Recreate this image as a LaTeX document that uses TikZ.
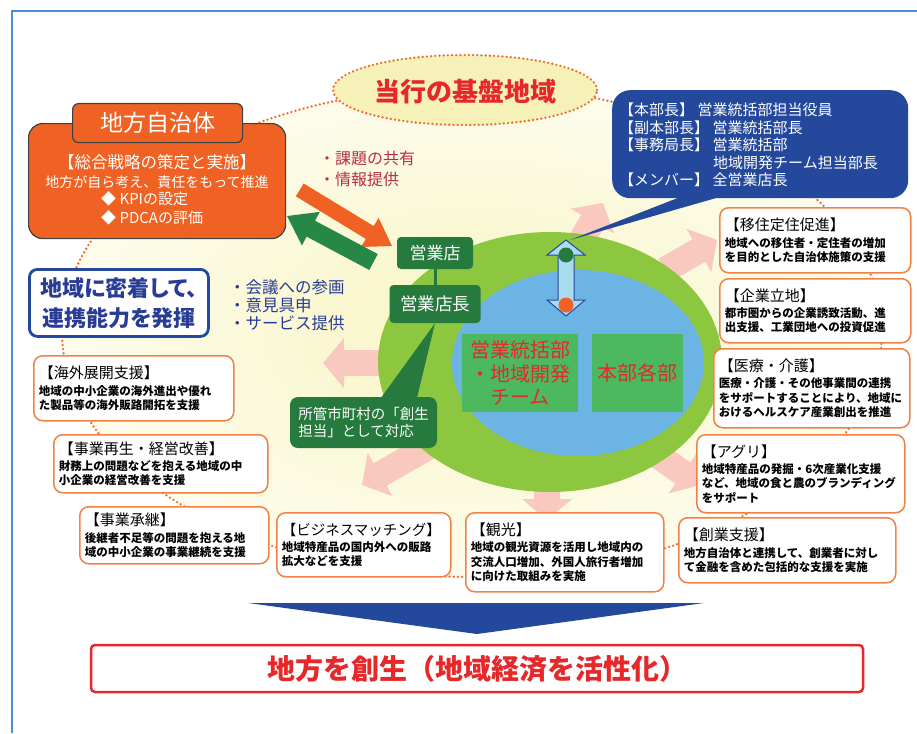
\documentclass[tikz,border=0pt]{standalone}
\usepackage{fontspec}
\setmainfont{Noto Sans CJK JP}
\newfontfamily\jpp[RawFeature=+palt]{Noto Sans CJK JP}
\usetikzlibrary{calc}

\definecolor{frameblue}{RGB}{74,144,208}
\definecolor{dotor}{RGB}{240,110,40}
\definecolor{orfill}{RGB}{240,98,35}
\definecolor{dkgreen}{RGB}{38,122,62}
\definecolor{argreen}{RGB}{38,135,70}
\definecolor{ringgreen}{RGB}{141,198,63}
\definecolor{lakeblue}{RGB}{108,180,228}
\definecolor{rectgreen}{RGB}{76,184,96}
\definecolor{redtxt}{RGB}{230,40,42}
\definecolor{navy}{RGB}{35,72,156}
\definecolor{navytxt}{RGB}{40,60,150}
\definecolor{boxor}{RGB}{240,130,70}
\definecolor{pinkar}{RGB}{249,200,190}
\definecolor{crimson}{RGB}{185,45,70}
\definecolor{paleblue}{RGB}{170,220,240}
\definecolor{bgin}{RGB}{248,245,195}
\definecolor{bgout}{RGB}{253,252,236}
\definecolor{ellfill}{RGB}{246,241,185}

\newcommand{\fsz}[2]{\fontsize{#1pt}{#2pt}\selectfont}
\newcommand{\ttl}[1]{{\mdseries\fsz{15}{18}#1}\\[2pt]}
% color, tipx, tipy, angle, length, shaft half, head half, head length
\newcommand{\blkarrow}[8]{\fill[#1, shift={(#2,#3)}, rotate=#4] (0,0) -- (-#8,#7) -- (-#8,#6) -- (-#5,#6) -- (-#5,-#6) -- (-#8,-#6) -- (-#8,-#7) -- cycle;}

\begin{document}
\begin{tikzpicture}[x=1pt,y=-1pt,
  dotline/.style={draw=dotor, line width=2.6pt, dash pattern=on 0pt off 4.2pt, line cap=round},
  obox/.style={draw=boxor, line width=1.5pt, fill=white, rounded corners=9pt, align=left,
    anchor=north west, inner xsep=5pt, inner ysep=0pt, text=black, font=\bfseries\fsz{11.5}{14.3}},
  gbox/.style={fill=dkgreen, rounded corners=4pt, text=white, inner sep=0pt},
  wtxt/.style={text=white, inner sep=0pt},
  btxt/.style={text=white, inner sep=0pt, anchor=west, font=\fsz{15}{15}}
]
\useasboundingbox (0,0) rectangle (917,733);

% frame
\draw[frameblue, line width=1.5pt] (12,733) -- (12,11) -- (917,11);

% background region
\shade[inner color=bgin, outer color=bgout] (472,332) ellipse [x radius=410pt, y radius=245pt];
\draw[dotline] (472,332) ellipse [x radius=410pt, y radius=245pt];

% pink arrows
\blkarrow{pinkar}{323}{363}{180}{65}{13}{25}{21}
\blkarrow{pinkar}{362}{485}{210}{80}{13}{25}{21}
\blkarrow{pinkar}{547}{520}{270}{60}{13}{25}{21}
\blkarrow{pinkar}{700}{485}{-35}{60}{13}{25}{21}
\blkarrow{pinkar}{717}{240}{30}{60}{13}{25}{21}
\blkarrow{pinkar}{603}{203}{60}{60}{13}{25}{21}

% circle
\fill[ringgreen] (550,362) ellipse [x radius=172pt, y radius=130pt];
\fill[lakeblue] (578,363) ellipse [x radius=126pt, y radius=93pt];

\node[fill=rectgreen, minimum width=116pt, minimum height=78pt, inner sep=0pt, text=redtxt,
  align=center, font=\fsz{20}{23.5}] (eigyo) at (520,373) {営業統括部\\・地域開発\\チーム};
\node[fill=rectgreen, minimum width=91pt, minimum height=78pt, inner sep=0pt, text=redtxt,
  font=\fsz{20}{20}] (kakubu) at (637.5,373) {本部各部};

% double arrow
\draw[fill=paleblue, draw=navy, line width=1pt] (566,240) -- (585,255) -- (574,255) -- (574,300)
  -- (585,300) -- (566,316) -- (547,300) -- (558,300) -- (558,255) -- (547,255) -- cycle;
\fill[dkgreen] (566,255) circle (7.5pt);
\fill[orfill] (566,305) circle (7.5pt);

% branch boxes
\node[gbox, minimum width=76pt, minimum height=32pt, font=\fsz{17}{17}] (ten) at (435,253) {営業店};
\node[gbox, minimum width=91pt, minimum height=38pt, font=\fsz{17.5}{17.5}] (chou) at (435,304) {営業店長};
\draw[dkgreen, line width=3pt] (ten.south) -- (chou.north);
\fill[dkgreen] (378,402) -- (chou.south) -- (416,402) -- cycle;
\node[gbox, rounded corners=8pt, minimum width=147pt, minimum height=51pt, align=left,
  font=\fsz{14.5}{17.5}] (soukan) at (363.5,422.5) {所管市町村の「創生\\担当」として対応};

% exchange arrows
\blkarrow{orfill}{392}{246}{-31.3}{108}{7.5}{17}{26}
\blkarrow{argreen}{287}{216}{152}{98}{9}{19}{27}

\node[anchor=west, inner sep=0pt, text=crimson, font=\fsz{16}{16}] (kadai) at (319,158) {・課題の共有};
\node[anchor=west, inner sep=0pt, text=crimson, font=\fsz{16}{16}] (joho) at (319,179) {・情報提供};

\node[anchor=west, inner sep=0pt, text=navytxt, font=\fsz{16.5}{16.5}] (kaigi) at (229,287) {・会議への参画};
\node[anchor=west, inner sep=0pt, text=navytxt, font=\fsz{16.5}{16.5}] (iken) at (229,305) {・意見具申};
\node[anchor=west, inner sep=0pt, text=navytxt, font=\fsz{16.5}{16.5}] (service) at (229,323) {・サービス提供};

% local government
\node[draw=black!75, line width=1.2pt, fill=orfill, rounded corners=14pt, minimum width=257pt,
  minimum height=115pt, anchor=north west, inner sep=0pt] (jichi) at (28,123) {};
\node[draw=black!75, line width=1.2pt, fill=orfill, rounded corners=6pt, minimum width=170pt,
  minimum height=39pt, anchor=north west, inner sep=0pt, text=white, font=\fsz{23}{23}] (jichit) at (72,103) {地方自治体};
\node[wtxt, font=\fsz{16.5}{17}] (senryaku) at (157,162) {【総合戦略の策定と実施】};
\node[wtxt, font=\fsz{14}{14}] (suishin) at (157,182) {地方が自ら考え、責任をもって推進};
\node[wtxt, anchor=west, font=\fsz{15}{15}] (kpi) at (101,199) {◆ KPIの設定};
\node[wtxt, anchor=west, font=\fsz{15}{15}] (pdca) at (101,218) {◆ PDCAの評価};

% regional box
\node[draw=navy, line width=2.8pt, fill=white, rounded corners=8pt, minimum width=179pt,
  minimum height=67pt, anchor=north west, inner sep=0pt, align=center, text=navytxt,
  font=\jpp\bfseries\fsz{22}{30}] (mitchaku) at (28,268) {地域に密着して、\\連携能力を発揮};

% headquarters
\fill[navy] (688,194) -- (570,240) -- (730,194) -- cycle;
\node[fill=navy, rounded corners=18pt, minimum width=296pt, minimum height=108pt,
  anchor=north west, inner sep=0pt] (honbu) at (612,90) {};
\node[btxt] (h1) at (619,110) {【本部長】 営業統括部担当役員};
\node[btxt] (h2) at (619,128) {【副本部長】 営業統括部長};
\node[btxt] (h3) at (619,145) {【事務局長】 営業統括部};
\node[btxt] (h4) at (713,163) {地域開発チーム担当部長};
\node[btxt] (h5) at (619,180) {【メンバー】 全営業店長};

% title ellipse
\draw[dotline, fill=ellfill] (465,90) ellipse [x radius=132pt, y radius=35pt];
\node[inner sep=0pt, text=redtxt, font=\bfseries\fsz{26}{26}] (kiban) at (465,92) {当行の基盤地域};

% support boxes
\node[obox, minimum width=191pt, text width=181pt, minimum height=65pt] (ijuu) at (719,207)
  {\ttl{【移住定住促進】}地域への移住者・定住者の増加\\を目的とした自治体施策の支援};
\node[obox, minimum width=191pt, text width=181pt, minimum height=64pt] (kigyo) at (719,278)
  {\ttl{【企業立地】}都市圏からの企業誘致活動、進\\出支援、工業団地への投資促進};
\node[obox, minimum width=196pt, text width=186pt, minimum height=79pt] (iryo) at (713,348)
  {\ttl{【医療・介護】}医療・介護・その他事業間の連携\\をサポートすることにより、地域に\\おけるヘルスケア産業創出を推進};
\node[obox, minimum width=208pt, text width=198pt, minimum height=78pt] (agri) at (696,434)
  {\ttl{【アグリ】}地域特産品の発掘・6次産業化支援\\など、地域の食と農のブランディング\\をサポート};
\node[obox, minimum width=217pt, text width=207pt, minimum height=65pt] (sogyo) at (678,517)
  {\ttl{【創業支援】}地方自治体と連携して、創業者に対し\\て金融を含めた包括的な支援を実施};
\node[obox, minimum width=198pt, text width=188pt, minimum height=79pt] (kanko) at (465,512)
  {\ttl{【観光】}地域の観光資源を活用し地域内の\\交流人口増加、外国人旅行者増加\\に向けた取組みを実施};
\node[obox, minimum width=174pt, text width=164pt, minimum height=64pt] (bm) at (276,512)
  {{\mdseries\fsz{14.5}{18}【ビジネスマッチング】}\\[2pt]地域特産品の国内外への販路\\拡大などを支援};
\node[obox, minimum width=189pt, text width=179pt, minimum height=57pt] (shokei) at (79,506)
  {\ttl{【事業承継】}後継者不足等の問題を抱える地\\域の中小企業の事業継続を支援};
\node[obox, minimum width=214pt, text width=204pt, minimum height=58pt] (saisei) at (53,434)
  {\ttl{【事業再生・経営改善】}財務上の問題などを抱える地域の中\\小企業の経営改善を支援};
\node[obox, minimum width=200pt, text width=190pt, minimum height=65pt] (kaigai) at (33,355)
  {\ttl{【海外展開支援】}地域の中小企業の海外進出や優れ\\た製品等の海外販路開拓を支援};

% result
\fill[navy] (248,603) -- (704,603) -- (477,634) -- cycle;
\node[draw=redtxt, line width=2.5pt, fill=white, rounded corners=4pt, minimum width=772pt,
  minimum height=47pt, inner sep=0pt, text=redtxt, font=\bfseries\fsz{28}{28}] (sosei) at (477,668.5)
  {地方を創生（地域経済を活性化）};
\end{tikzpicture}
\end{document}
